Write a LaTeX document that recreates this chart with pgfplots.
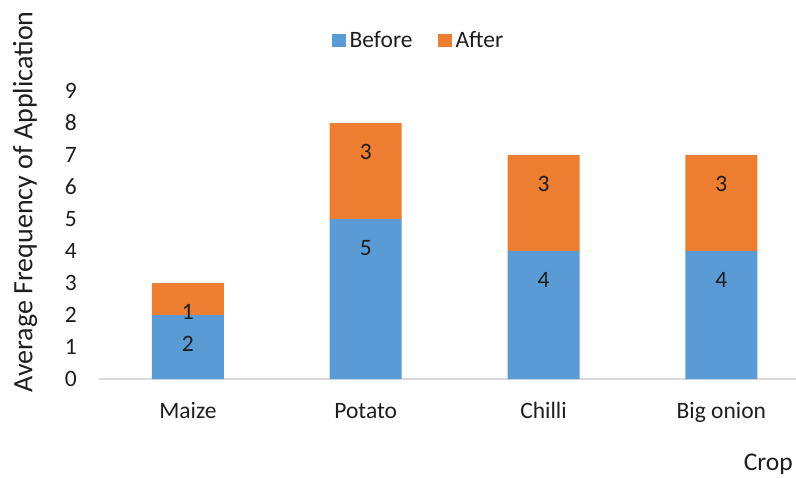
\documentclass[border=0pt]{standalone}
\usepackage{pgfplots}
\usepackage{pgfplotstable}
\pgfplotsset{compat=1.18}
\usepackage{fontspec}
\setmainfont{Carlito}
\definecolor{barblue}{HTML}{5B9BD5}
\definecolor{barorange}{HTML}{ED7D31}
\definecolor{axisgray}{HTML}{D9D9D9}
\definecolor{txt}{HTML}{1E1E1E}

% average frequency of application per crop
\pgfplotstableread{
x before after
0 2 1
1 5 3
2 4 3
3 4 3
}\freqdata

\begin{document}
\begin{tikzpicture}
\useasboundingbox (-99bp,-99bp) rectangle (697bp,379bp);
\begin{axis}[
  scale only axis,
  width=697bp, height=288bp,
  ybar stacked, bar width=72bp,
  xmin=-0.5, xmax=3.42,
  ymin=0, ymax=9,
  xtick={0,1,2,3},
  xticklabels={Maize,Potato,Chilli,Big onion},
  ytick={0,1,...,9},
  major tick length=0pt,
  axis x line*=bottom, axis y line*=left,
  x axis line style={-, draw=axisgray, line width=2bp},
  y axis line style={draw=none},
  /pgf/number format/assume math mode=true,
  font=\fontsize{23.5bp}{28bp}\selectfont\color{txt},
  ticklabel style={font=\fontsize{23.5bp}{28bp}\selectfont\color{txt}},
  yticklabel style={anchor=east, inner sep=0pt, xshift=-22bp},
  xticklabel style={anchor=base, inner sep=0pt, yshift=-39bp},
  point meta=explicit,
  nodes near coords,
  visualization depends on={rawy \as \segval},
  % labels sit near the top end of each segment (32bp per unit)
  every node near coord/.append style={anchor=center,
    yshift={\segval*16bp-29bp},
    font=\fontsize{23.5bp}{28bp}\selectfont\color{txt}},
  legend columns=2,
  legend style={draw=none, fill=none, at={(0.4598,1.177)}, anchor=center,
    font=\fontsize{23.5bp}{28bp}\selectfont\color{txt},
    nodes={inner xsep=3.5bp, inner ysep=0pt},
    /tikz/every even column/.append style={column sep=22bp},
    inner sep=0pt},
  legend image code/.code={\fill[#1] (0bp,-6.5bp) rectangle (14bp,6.5bp);},
  clip=false,
]
\addplot[fill=barblue, draw=none]
  table[x=x, y=before, meta=before] {\freqdata};
\addlegendentry{Before}
\addplot[fill=barorange, draw=none]
  table[x=x, y=after, meta=after] {\freqdata};
\addlegendentry{After}
\node[rotate=90, anchor=center, inner sep=0pt,
  font=\fontsize{28bp}{32bp}\selectfont\color{txt}]
  at (rel axis cs:-0.1062,0.615) {Average Frequency of Application};
\node[anchor=base east, inner sep=0pt,
  font=\fontsize{25.5bp}{30bp}\selectfont\color{txt}]
  at (rel axis cs:0.9955,-0.3194) {Crop};
\end{axis}
\end{tikzpicture}
\end{document}
